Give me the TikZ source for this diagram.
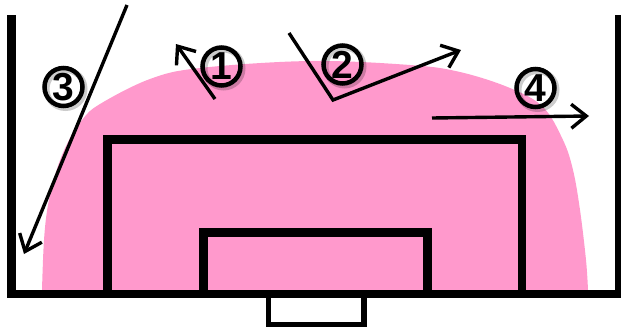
\documentclass[tikz,border=0pt]{standalone}
\usepackage{fontspec}
\setmainfont{Liberation Sans}
\usetikzlibrary{arrows.meta}
\definecolor{blobpink}{HTML}{FF99CC}
\tikzset{
  fieldline/.style={line width=8.5pt, line cap=butt, line join=miter},
  goalline/.style={line width=5.5pt, line join=miter},
  runarrow/.style={line width=3.4pt, line join=miter, -{Straight Barb[length=15pt,width=24pt,line width=3.4pt]}},
  numcirc/.style={circle, draw, line width=4.5pt, minimum size=38pt, inner sep=0pt,
     font=\fontsize{39}{39}\selectfont\bfseries},
  numshadow/.style={circle, draw=black, opacity=0.2, line width=6pt, minimum size=38pt, inner sep=0pt}
}
\begin{document}
\begin{tikzpicture}[x=1pt,y=-1pt]
\useasboundingbox (0,0) rectangle (621,327);
% pink zone
\fill[blobpink] plot[smooth, tension=0.6] coordinates {(42,290) (44,240) (48,205) (56,172) (67,144) (82,120) (100,104) (150,79) (200,68) (310,61) (410,65) (460,72) (510,88) (543,107) (563,140) (573,170) (580,210) (586,260) (588,290)} -- cycle;
% field lines
\coordinate (slTL) at (11.5,15);
\coordinate (slBL) at (11.5,294);
\coordinate (slBR) at (619,294);
\coordinate (slTR) at (619,15);
\draw[fieldline] (slTL) -- (slBL) -- (slBR) -- (slTR);
% penalty area
\coordinate (paBL) at (107.5,294);
\coordinate (paTL) at (107.5,139.5);
\coordinate (paTR) at (522,139.5);
\coordinate (paBR) at (522,294);
\draw[fieldline] (paBL) -- (paTL) -- (paTR) -- (paBR);
% goal area
\coordinate (gaBL) at (203.5,294);
\coordinate (gaTL) at (203.5,232.5);
\coordinate (gaTR) at (427.5,232.5);
\coordinate (gaBR) at (427.5,294);
\draw[fieldline] (gaBL) -- (gaTL) -- (gaTR) -- (gaBR);
% goal
\coordinate (gBL) at (268.5,296);
\coordinate (gB1) at (268.5,324.5);
\coordinate (gB2) at (364,324.5);
\coordinate (gBR) at (364,296);
\draw[goalline] (gBL) -- (gB1) -- (gB2) -- (gBR);
% arrows
\coordinate (a1s) at (215,99);
\coordinate (a1e) at (176,44);
\draw[runarrow] (a1s) -- (a1e);
\coordinate (a2s) at (289,33);
\coordinate (a2m) at (333,100);
\coordinate (a2e) at (461,50);
\draw[runarrow] (a2s) -- (a2m) -- (a2e);
\coordinate (a3s) at (127,5);
\coordinate (a3e) at (24,254);
\draw[runarrow] (a3s) -- (a3e);
\coordinate (a4s) at (432,118);
\coordinate (a4e) at (589,116);
\draw[runarrow] (a4s) -- (a4e);
% numbers
\node[numshadow] at (223.5,68.5) {};
\node[numcirc] (n1) at (221.5,66.5) {1};
\node[numshadow] at (344.5,66.5) {};
\node[numcirc] (n2) at (342.5,64.5) {2};
\node[numshadow] at (65.5,89) {};
\node[numcirc] (n3) at (63.5,87) {3};
\node[numshadow] at (537.5,90) {};
\node[numcirc] (n4) at (535.5,88) {4};
\end{tikzpicture}
\end{document}
